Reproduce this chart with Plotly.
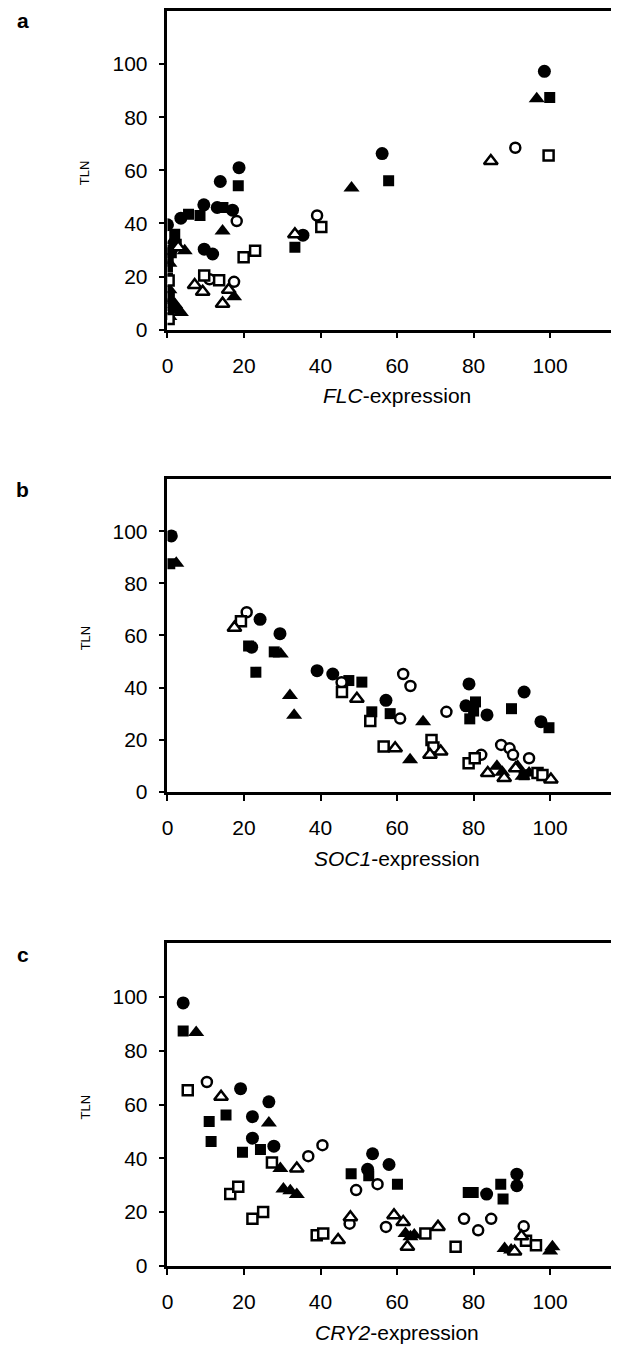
import plotly.graph_objects as go

# (expression, TLN) pairs, one list per symbol
a_filled_circle = [(0, 39.5), (1, 30), (3.5, 42), (9.5, 47), (9.6, 30.3), (11.8, 28.5), (13, 46), (13.8, 55.8),
                   (17, 45), (18.7, 61), (35.4, 35.6), (56.1, 66.3), (98.5, 97.3)]
a_filled_square = [(1.9, 35.9), (2.3, 32.2), (0.2, 26.8), (0, 23.7), (1, 29), (5.5, 43.5), (8.5, 43),
                   (14.5, 46), (18.5, 54.2), (33.3, 31), (57.8, 56.1), (99.9, 87.4), (0, 9), (0.5, 12.5),
                   (0, 19.5)]
a_filled_triangle = [(4.5, 29.7), (0.5, 25), (1.5, 33.5), (14.4, 37.2), (17.4, 12.4), (48.1, 53.3), (96.5, 87),
                     (0.5, 5), (2, 7.5), (3.5, 6.5), (1, 11), (0.5, 15), (2, 9.5)]
a_open_circle = [(18.1, 40.9), (17.4, 18), (11, 19), (39.1, 43), (90.9, 68.5)]
a_open_square = [(0.3, 18.5), (9.6, 20.4), (13.5, 18.6), (19.9, 27.3), (22.9, 29.7), (40.2, 38.7), (99.6, 65.6),
                 (0.3, 4)]
a_open_triangle = [(2.8, 31), (7.1, 16.8), (9.2, 14.3), (14.4, 9.8), (16, 15), (33.3, 35.9), (84.5, 63.5)]

b_filled_circle = [(1, 98.2), (22, 55.5), (24.2, 66.2), (29.4, 60.7), (39.1, 46.5), (43.2, 45.2), (57.1, 35.1),
                   (78.8, 41.4), (78, 33), (83.5, 29.5), (93.2, 38.3), (97.6, 26.9)]
b_filled_square = [(0.6, 87.5), (21.2, 56), (23.1, 45.9), (27.9, 53.7), (47.4, 42.7), (50.8, 42.1),
                   (53.4, 30.7), (58.2, 30), (80.5, 34.5), (79, 28), (80, 31), (89.9, 31.9), (99.7, 24.6),
                   (93.2, 6.6)]
b_filled_triangle = [(2.3, 87.7), (29.6, 52.9), (32, 37), (33.1, 29.4), (63.4, 12.3), (66.8, 26.9),
                     (86.1, 9.8), (91.5, 9.8), (92.8, 6), (94.5, 7.2), (87.5, 7.5)]
b_open_circle = [(20.7, 68.9), (45.5, 42), (60.8, 28.1), (61.6, 45.2), (63.5, 40.6), (72.9, 30.7), (82, 14.2),
                 (87.2, 18), (89.4, 16.7), (90.3, 14.2), (94.5, 12.9)]
b_open_square = [(19.2, 65.5), (45.6, 38.3), (53, 27.2), (56.5, 17.4), (69, 19.9), (69.5, 17), (78.7, 11),
                 (80.3, 12.9), (96.7, 7.2), (98, 6.5)]
b_open_triangle = [(17.5, 63), (49.5, 35.7), (59.5, 16.7), (68.6, 14.2), (71.4, 15.5), (83.7, 7.2), (88, 5.3),
                   (100.2, 4.7), (91, 9)]

c_filled_circle = [(4.1, 97.8), (19.1, 65.9), (22.2, 55.5), (22.2, 47.5), (26.5, 61), (27.8, 44.5),
                   (53.6, 41.7), (52.3, 35.9), (57.9, 37.7), (83.4, 26.7), (91.3, 34.1), (91.3, 29.8)]
c_filled_square = [(4.1, 87.4), (10.9, 53.7), (15.3, 56.1), (11.4, 46.3), (19.6, 42.3), (24.3, 43.3),
                   (48, 34.3), (52.6, 33.5), (60.1, 30.4), (79.9, 27.3), (78.6, 27.3), (87.1, 30.4),
                   (87.7, 24.9)]
c_filled_triangle = [(7.5, 86.8), (26.5, 53.1), (29.5, 36.2), (30.3, 28.6), (32.1, 27.9), (33.8, 26.5),
                     (62.2, 12), (63.5, 10.8), (64.5, 11.5), (88.1, 6.5), (89.8, 5.9), (100.6, 7.1), (100, 5.5)]
c_open_circle = [(10.3, 68.4), (36.8, 40.8), (40.5, 44.9), (47.6, 15.7), (49.3, 28.2), (54.9, 30.4),
                 (57.1, 14.5), (77.5, 17.5), (81.2, 13.2), (84.6, 17.5), (93.1, 14.7)]
c_open_square = [(5.3, 65.3), (16.4, 26.7), (18.5, 29.4), (22.2, 17.5), (25, 20), (27.3, 38.4), (39, 11.4),
                 (40.7, 12), (67.4, 12), (75.3, 7.1), (93.7, 9.3), (96.3, 7.7)]
c_open_triangle = [(14, 62.9), (33.8, 36.2), (44.6, 9.6), (47.8, 18.1), (59.2, 18.8), (61.6, 16.3),
                   (62.7, 7.1), (70.7, 14.5), (90.7, 5.3), (92.5, 11)]

x_titles = ["<i>FLC</i>-expression", "<i>SOC1</i>-expression", "<i>CRY2</i>-expression"]
panel_letters = ["a", "b", "c"]
y_ticks = [0, 20, 40, 60, 80, 100]
x_ticks = [0, 20, 40, 60, 80, 100]

panels = [
    [a_filled_circle, a_filled_square, a_filled_triangle, a_open_circle, a_open_square, a_open_triangle],
    [b_filled_circle, b_filled_square, b_filled_triangle, b_open_circle, b_open_square, b_open_triangle],
    [c_filled_circle, c_filled_square, c_filled_triangle, c_open_circle, c_open_square, c_open_triangle],
]

# the page body keeps its default 8px margin, so the figure is drawn 8px smaller and shifted
OFF = 8
W, H = 619 - OFF, 1359 - OFF
FONT = "Arial, Liberation Sans, sans-serif"

# symbol, fill, size  (open ones are white-filled with a thick black outline)
styles = [
    ("circle", "black", 13),
    ("square", "black", 11),
    ("triangle-up", "black", 14),
    ("circle", "white", 10),
    ("square", "white", 10),
    ("triangle-up", "white", 12),
]

# page-pixel boxes of the plot areas: (top, bottom)
boxes = [(7, 330), (481, 797), (950, 1276)]
left_px = 163 - OFF


def px_x(p):
    return (p - OFF) / W


def px_y(p):
    return (H - (p - OFF)) / H


fig = go.Figure()
layout = dict(
    width=W, height=H, margin=dict(l=0, r=0, t=0, b=0),
    paper_bgcolor="white", plot_bgcolor="white", showlegend=False,
    font=dict(family=FONT, color="black"),
)
annotations = []

for i, series in enumerate(panels):
    n = "" if i == 0 else str(i + 1)
    for pts, (sym, fill, size) in zip(series, styles):
        fig.add_trace(go.Scatter(
            x=[p[0] for p in pts], y=[p[1] for p in pts], mode="markers",
            xaxis="x" + n, yaxis="y" + n,
            marker=dict(symbol=sym, color=fill, size=size,
                        line=dict(color="black", width=0 if fill == "black" else 2.5)),
        ))
    top, bottom = boxes[i]
    layout["xaxis" + n] = dict(
        domain=[px_x(163), 1], range=[0, 118], anchor="y" + n,
        tickvals=x_ticks, ticks="outside", ticklen=6, tickwidth=2, tickcolor="black",
        showline=True, linewidth=2.5, linecolor="black", mirror=True,
        showgrid=False, zeroline=False, tickfont=dict(size=21), ticklabelstandoff=9,
    )
    layout["yaxis" + n] = dict(
        domain=[px_y(bottom), min(px_y(top), 1)], range=[0, 120], anchor="x" + n,
        tickvals=y_ticks, ticks="outside", ticklen=6, tickwidth=2, tickcolor="black",
        showline=True, linewidth=2.5, linecolor="black",
        showgrid=False, zeroline=False, tickfont=dict(size=21), ticklabelstandoff=7,
    )
    annotations.append(dict(text=x_titles[i], xref="x" + n, x=60, yref="paper", y=px_y(bottom + 67),
                            xanchor="center", yanchor="middle", showarrow=False, font=dict(size=21)))
    annotations.append(dict(text="TLN", xref="paper", x=px_x(80), yref="y" + n, y=59, textangle=-90,
                            xanchor="center", yanchor="middle", showarrow=False, font=dict(size=13)))
    annotations.append(dict(text="<b>%s</b>" % panel_letters[i], xref="paper", x=px_x(17),
                            yref="paper", y=px_y(top + 11), xanchor="center", yanchor="middle",
                            showarrow=False, font=dict(size=21)))

layout["annotations"] = annotations
fig.update_layout(**layout)
fig.write_html("out.html")
